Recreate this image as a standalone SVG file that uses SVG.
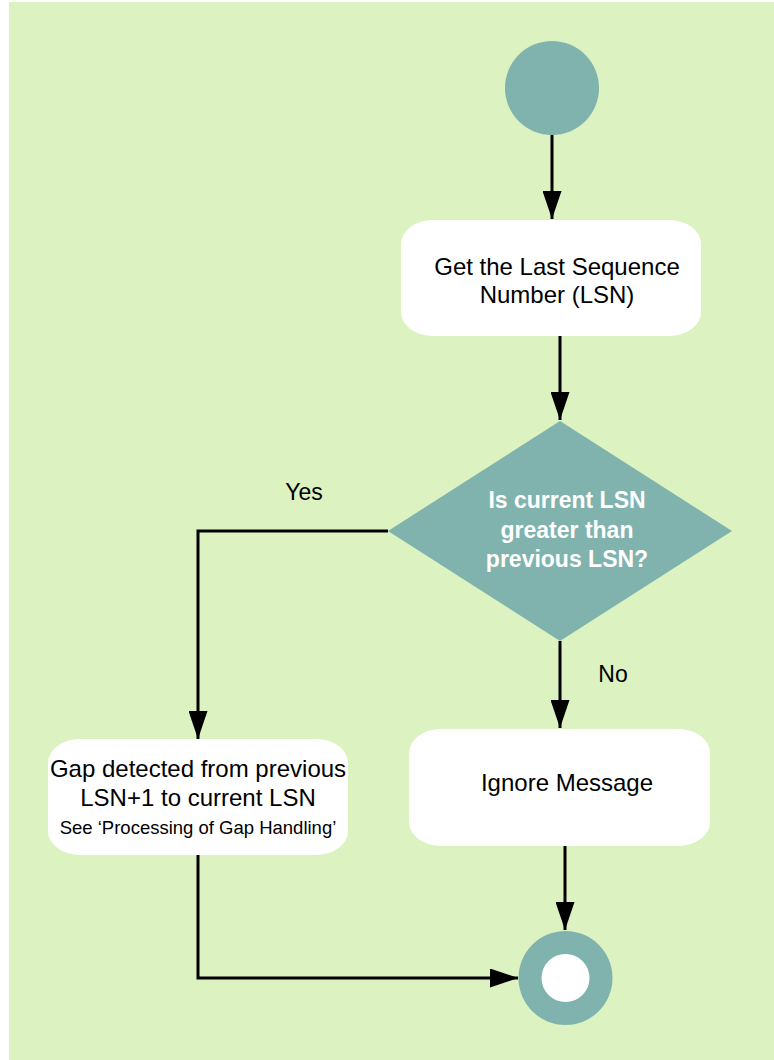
<svg xmlns="http://www.w3.org/2000/svg" width="774" height="1060" viewBox="0 0 774 1060">
<style>
.bg{fill:#dcf2c0}
.teal{fill:#80b3ae}
.box{fill:#ffffff}
.t{font-family:"Liberation Sans",Arial,sans-serif;font-size:24px;fill:#000;text-anchor:middle}
.tb{font-family:"Liberation Sans",Arial,sans-serif;font-size:23px;font-weight:bold;fill:#ffffff;text-anchor:middle}
.ts{font-family:"Liberation Sans",Arial,sans-serif;font-size:18.5px;fill:#000;text-anchor:middle}
.lbl{font-family:"Liberation Sans",Arial,sans-serif;font-size:23px;fill:#000;text-anchor:middle}
.c{fill:none;stroke:#000;stroke-width:3}
</style>
<defs>
<marker id="ah" markerUnits="userSpaceOnUse" markerWidth="28" markerHeight="19" viewBox="0 0 28 19" refX="28" refY="9.5" orient="auto">
<path d="M0,0 L28,9.5 L0,19 Z" fill="#000"/>
</marker>
</defs>
<rect width="774" height="1060" fill="#ffffff"/>
<rect class="bg" x="9" y="2" width="765" height="1058"/>

<g id="connectors">
<path class="c" d="M552,134 V219" marker-end="url(#ah)"/>
<path class="c" d="M560,336 V420" marker-end="url(#ah)"/>
<path class="c" d="M388,531 H198 V739" marker-end="url(#ah)"/>
<path class="c" d="M560,641 V728" marker-end="url(#ah)"/>
<path class="c" d="M565,846 V930" marker-end="url(#ah)"/>
<path class="c" d="M198,855 V978 H518" marker-end="url(#ah)"/>
</g>

<g id="start">
<circle class="teal" cx="552" cy="88" r="47"/>
</g>

<g id="get-lsn">
<rect class="box" x="401" y="220" width="300" height="116" rx="32" ry="24"/>
<text class="t" x="557" y="275">Get the Last Sequence</text>
<text class="t" x="557" y="303">Number (LSN)</text>
</g>

<g id="decision">
<polygon class="teal" points="560,421 732,531 560,641 388,531"/>
<text class="tb" x="567" y="508">Is current LSN</text>
<text class="tb" x="567" y="538">greater than</text>
<text class="tb" x="567" y="567">previous LSN?</text>
</g>

<g id="label-yes">
<text class="lbl" x="304" y="500">Yes</text>
</g>
<g id="label-no">
<text class="lbl" x="613" y="682">No</text>
</g>

<g id="gap-detected">
<rect class="box" x="48" y="739" width="300" height="116" rx="32" ry="24"/>
<text class="t" x="198" y="777">Gap detected from previous</text>
<text class="t" x="198" y="806">LSN+1 to current LSN</text>
<text class="ts" x="198" y="834">See ‘Processing of Gap Handling’</text>
</g>

<g id="ignore">
<rect class="box" x="409" y="729" width="301" height="117" rx="32" ry="24"/>
<text class="t" x="567" y="791">Ignore Message</text>
</g>

<g id="end">
<circle class="teal" cx="565.5" cy="978" r="47"/>
<circle class="box" cx="565.5" cy="978" r="24"/>
</g>
</svg>
